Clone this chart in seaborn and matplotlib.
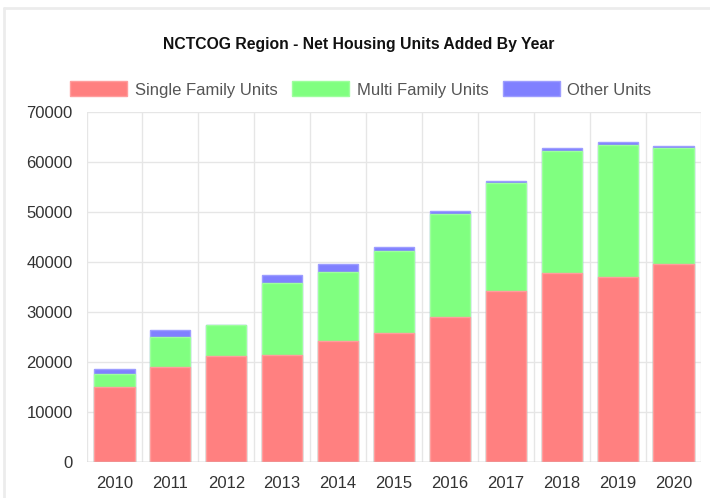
import matplotlib
matplotlib.use("Agg")
import matplotlib.pyplot as plt
import numpy as np
import pandas as pd
import seaborn as sns
from matplotlib.lines import Line2D
from matplotlib.patches import Patch

years = ["2010", "2011", "2012", "2013", "2014", "2015",
         "2016", "2017", "2018", "2019", "2020"]
single_family = [15000, 19000, 21100, 21300, 24100, 25800,
                 29000, 34200, 37800, 36900, 39600]
multi_family = [2500, 5900, 6200, 14400, 13800, 16300,
                20500, 21500, 24400, 26500, 23200]
other_units = [1000, 1400, 0, 1600, 1600, 800,
               600, 500, 500, 500, 450]

RED = "#ff8080"
GREEN = "#80ff80"
BLUE = "#8080ff"

sns.set_style("white")
plt.rcParams["font.family"] = ["Liberation Sans", "DejaVu Sans"]

df = pd.DataFrame({"year": years, "sf": single_family,
                   "mf": multi_family, "other": other_units})
df["sf_mf"] = df["sf"] + df["mf"]
df["total"] = df["sf_mf"] + df["other"]

W, H = 710, 498
PX = 72 / 100   # points per pixel at dpi 100
fig = plt.figure(figsize=(W / 100, H / 100), dpi=100)
ax = fig.add_axes([86.5 / W, 1 - 461.5 / H, (701.5 - 86.5) / W, (461.5 - 112) / H])

# stacked look: draw cumulative totals back to front
for col, c, e in [("total", BLUE, "#9d9dff"), ("sf_mf", GREEN, "#9dff9d"), ("sf", RED, "#ff9d9d")]:
    sns.barplot(data=df, x="year", y=col, color=c, width=0.72, saturation=1,
                edgecolor=e, linewidth=1, ax=ax, zorder=2)

ax.set_xlim(-0.5, len(years) - 0.5)
ax.set_ylim(0, 70000)
ax.set_yticks(np.arange(0, 70001, 10000))
ax.set_xticks(np.arange(-0.5, len(years), 1.0), minor=True)
ax.grid(True, axis="y", which="major", color="#e6e6e6", lw=1, zorder=0)
ax.grid(True, axis="x", which="minor", color="#e6e6e6", lw=1, zorder=0)
ax.grid(False, axis="x", which="major")
ax.tick_params(axis="x", which="major", length=0, pad=14 * PX, labelsize=12, labelcolor="#333333")
ax.tick_params(axis="x", which="minor", length=10 * PX, color="#e6e6e6", width=1)
ax.tick_params(axis="y", length=13 * PX, color="#e6e6e6", width=1, pad=1 * PX,
               labelsize=12, labelcolor="#333333")
for s in ax.spines.values():
    s.set_visible(False)
ax.axhline(0, color="#c0c0c0", lw=1, zorder=3)
ax.set_xlabel("")
ax.set_ylabel("")

fig.text(359 / W, 1 - 45 / H, "NCTCOG Region - Net Housing Units Added By Year",
         ha="center", va="center", fontsize=11.3, fontweight="bold", color="#111111")

handles = [Patch(facecolor=RED, edgecolor="#ff9d9d", label="Single Family Units"),
           Patch(facecolor=GREEN, edgecolor="#9dff9d", label="Multi Family Units"),
           Patch(facecolor=BLUE, edgecolor="#9d9dff", label="Other Units")]
fig.legend(handles=handles, loc="center", bbox_to_anchor=(361 / W, 1 - 89.5 / H),
           ncol=3, frameon=False, fontsize=12, labelcolor="#555555",
           handlelength=3.4, handleheight=1.0, handletextpad=0.45,
           columnspacing=0.9, borderaxespad=0)

# light frame of the chart container
fig.add_artist(Line2D([4 / W, 1], [1 - 8 / H, 1 - 8 / H], color="#ececec", lw=2))
fig.add_artist(Line2D([4 / W, 4 / W], [0, 1 - 8 / H], color="#ececec", lw=2))

fig.savefig("out.png", dpi=100)
